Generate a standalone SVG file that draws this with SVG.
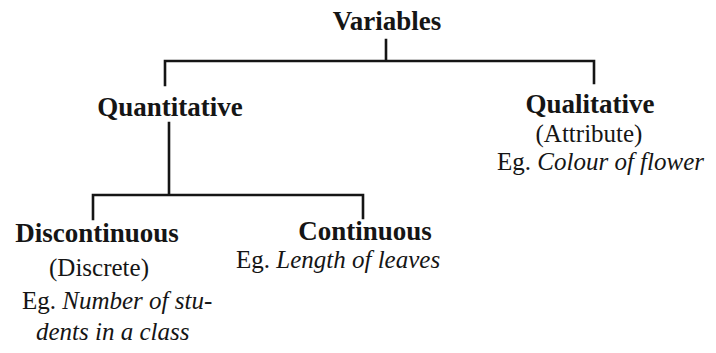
<svg xmlns="http://www.w3.org/2000/svg" width="716" height="353" viewBox="0 0 716 353">
<style>
.b{font-family:"Liberation Serif","Times New Roman",serif;font-weight:bold;font-size:27px;fill:#151515;text-anchor:middle}
.r{font-family:"Liberation Serif","Times New Roman",serif;font-size:25px;fill:#151515}
.i{font-style:italic}
.c{text-anchor:middle}
.ln{fill:none;stroke:#151515;stroke-width:2.6;stroke-linecap:square;stroke-linejoin:miter}
</style>
<rect width="716" height="353" fill="#ffffff"/>
<g id="connectors">
<path class="ln" d="M386 40 V61 M165 85 V61 H594 V83"/>
<path class="ln" d="M169 123 V195 M93 219 V195 H363 V218"/>
</g>
<g id="variables"><text class="b" x="387" y="30">Variables</text></g>
<g id="quantitative"><text class="b" x="170" y="116">Quantitative</text></g>
<g id="qualitative">
<text class="b" x="590" y="113">Qualitative</text>
<text class="r c" x="589" y="142">(Attribute)</text>
<text class="r" x="497" y="170">Eg. <tspan class="i">Colour of flower</tspan></text>
</g>
<g id="discontinuous">
<text class="b" x="97" y="242">Discontinuous</text>
<text class="r c" x="99" y="276">(Discrete)</text>
<text class="r" x="22" y="309">Eg. <tspan class="i">Number of stu-</tspan></text>
<text class="r i" x="36" y="340">dents in a class</text>
</g>
<g id="continuous">
<text class="b" x="365" y="240">Continuous</text>
<text class="r" x="236" y="268">Eg. <tspan class="i">Length of leaves</tspan></text>
</g>
</svg>
